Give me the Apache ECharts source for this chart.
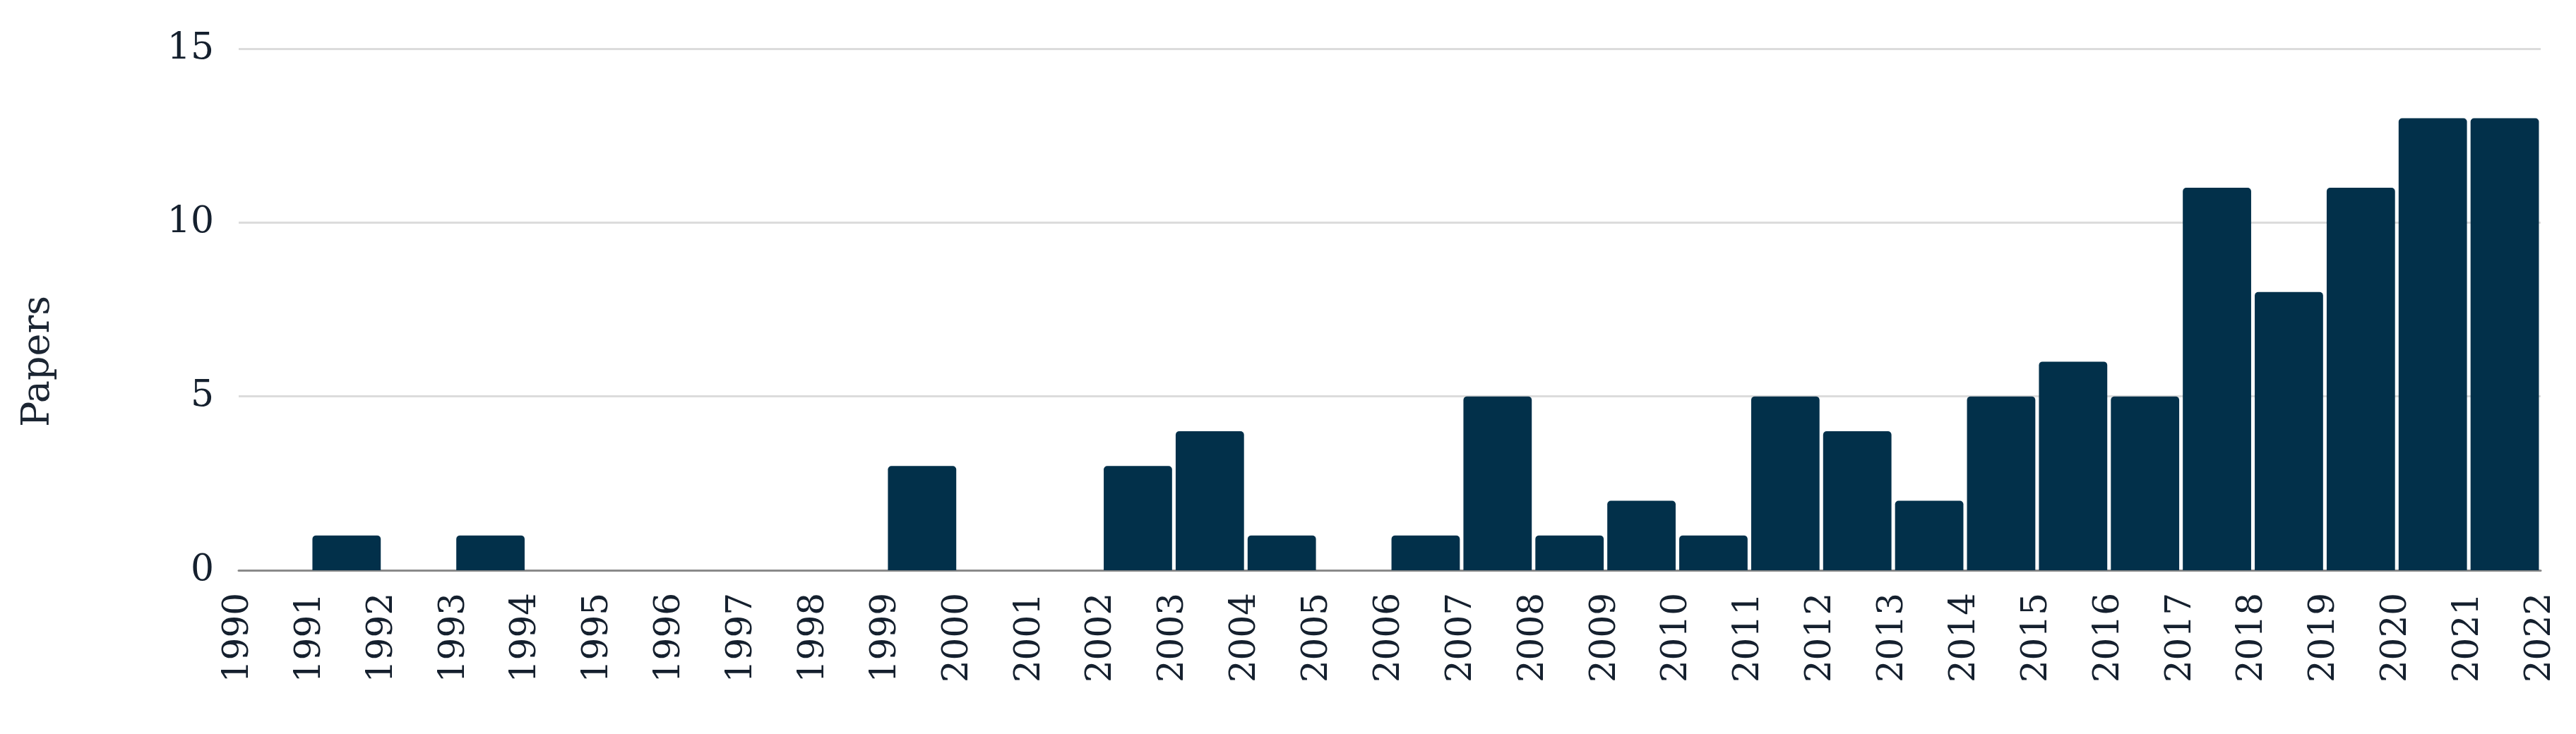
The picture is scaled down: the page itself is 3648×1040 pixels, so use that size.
<!DOCTYPE html>
<html>
<head>
<meta charset="utf-8">
<script src="https://cdn.jsdelivr.net/npm/echarts@6/dist/echarts.min.js"></script>
<style>
  html, body { margin: 0; padding: 0; background: #fff; }
  #chart { width: 3648px; height: 1040px; }
</style>
</head>
<body>
<div id="chart"></div>
<script>
// years: bar for year Y sits between tick Y and Y+1
const years = ['1990', '1991', '1992', '1993', '1994', '1995', '1996', '1997', '1998', '1999',
  '2000', '2001', '2002', '2003', '2004', '2005', '2006', '2007', '2008', '2009',
  '2010', '2011', '2012', '2013', '2014', '2015', '2016', '2017', '2018', '2019',
  '2020', '2021'];
const papers = [0, 1, 0, 1, 0, 0, 0, 0, 0, 3,
  0, 0, 3, 4, 1, 0, 1, 5, 1, 2,
  1, 5, 4, 2, 5, 6, 5, 11, 8, 11,
  13, 13];
// tick labels on the boundary axis
const tickMin = 1990;
const tickMax = 2022;
const yTicks = [0, 5, 10, 15];

const fontFamily = 'DejaVu Serif';
const textColor = '#15202e';

const chart = echarts.init(document.getElementById('chart'));

chart.setOption({
  animation: false,
  grid: {
    left: 338,
    right: 50,
    top: 69,
    bottom: 232
  },
  xAxis: [
    {
      // bars
      type: 'category',
      data: years,
      boundaryGap: true,
      axisLine: { show: false },
      axisTick: { show: false },
      axisLabel: { show: false }
    },
    {
      // year labels at bin edges
      type: 'value',
      min: tickMin,
      max: tickMax,
      interval: 1,
      position: 'bottom',
      splitLine: { show: false },
      axisTick: { show: false },
      axisLine: {
        show: true,
        lineStyle: { color: '#8a8a8a', width: 3 }
      },
      axisLabel: {
        rotate: 90,
        margin: 32,
        fontFamily: fontFamily,
        fontSize: 50,
        color: textColor,
        formatter: function (v) { return String(v); }
      }
    }
  ],
  yAxis: {
    type: 'value',
    min: yTicks[0],
    max: yTicks[yTicks.length - 1],
    interval: 5,
    axisLine: { show: false },
    axisTick: { show: false },
    splitLine: {
      lineStyle: { color: '#dcdcdc', width: 3 }
    },
    axisLabel: {
      margin: 35,
      fontFamily: fontFamily,
      fontSize: 52,
      color: textColor
    }
  },
  graphic: [
    {
      type: 'text',
      x: 55,
      y: 512,
      rotation: Math.PI / 2,
      style: {
        text: 'Papers',
        fontFamily: fontFamily,
        fontSize: 54,
        fill: '#1c2633',
        textAlign: 'center',
        textVerticalAlign: 'middle'
      }
    }
  ],
  series: [
    {
      type: 'bar',
      xAxisIndex: 0,
      data: papers,
      barCategoryGap: '5%',
      itemStyle: {
        color: '#02304a',
        borderRadius: [5, 5, 0, 0]
      }
    }
  ]
});
</script>
</body>
</html>
